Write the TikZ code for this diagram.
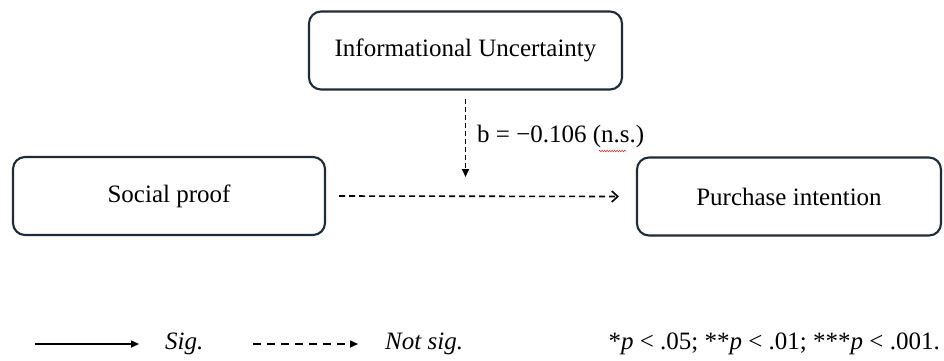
\documentclass[tikz,border=0pt]{standalone}
\usepackage{fontspec}
\setmainfont{Liberation Serif}
\usetikzlibrary{arrows.meta,decorations.pathmorphing}
\definecolor{boxline}{HTML}{1E2B38}
\definecolor{squiggle}{HTML}{D04040}
\tikzset{
  varbox/.style={draw=boxline, line width=2.1pt, rounded corners=12pt,
    minimum height=78pt, inner sep=0pt, font=\fontsize{25}{30}\selectfont},
  txt/.style={inner sep=0pt, font=\fontsize{25}{30}\selectfont},
  dasharrow/.style={line width=1.6pt, dash pattern=on 6pt off 4pt},
  filledtip/.style={-{Triangle[length=8pt,width=7pt]}},
  opentip/.style={-{Straight Barb[length=6pt,width=11pt,line width=1.6pt]}}
}
\begin{document}
\begin{tikzpicture}[x=1pt,y=-1pt]
\useasboundingbox (0,0) rectangle (944,360);

% variables
\node[varbox, minimum width=313pt] (iu) at (465.5,50.5) {Informational Uncertainty};
\node[varbox, minimum width=312pt] (sp) at (169,196) {Social proof};
\node[varbox, minimum width=304pt] (pi) at (789,196.5) {Purchase intention};

% direct path (not significant)
\draw[dasharrow, opentip] ([xshift=13pt]sp.east) -- ([xshift=-17pt]pi.west);

% moderation path
\coordinate (modend) at (465.5,177);
\draw[dasharrow, dash pattern=on 5pt off 3pt, filledtip]
  ([yshift=-8pt]iu.south) -- (modend);
\node[txt, anchor=west] (coef) at (477,136) {b = −0.106 (n.s.)};
\draw[squiggle, line width=0.6pt, decorate,
  decoration={zigzag, amplitude=0.8pt, segment length=2.5pt}]
  (599,151) -- (626,151);

% legend
\coordinate (sigA) at (35,344);
\coordinate (sigB) at (139,344);
\draw[line width=1.6pt, filledtip] (sigA) -- (sigB);
\node[txt, anchor=west] (sig) at (165,344) {\itshape Sig.};
\coordinate (nsA) at (253,344);
\coordinate (nsB) at (358,344);
\draw[line width=1.6pt, dash pattern=on 8pt off 6pt, filledtip] (nsA) -- (nsB);
\node[txt, anchor=west] (ns) at (385,344) {\itshape Not sig.};
\node[txt, anchor=east] (pvals) at (940,344)
  {*\textit{p} < .05; **\textit{p} < .01; ***\textit{p} < .001.};
\end{tikzpicture}
\end{document}
